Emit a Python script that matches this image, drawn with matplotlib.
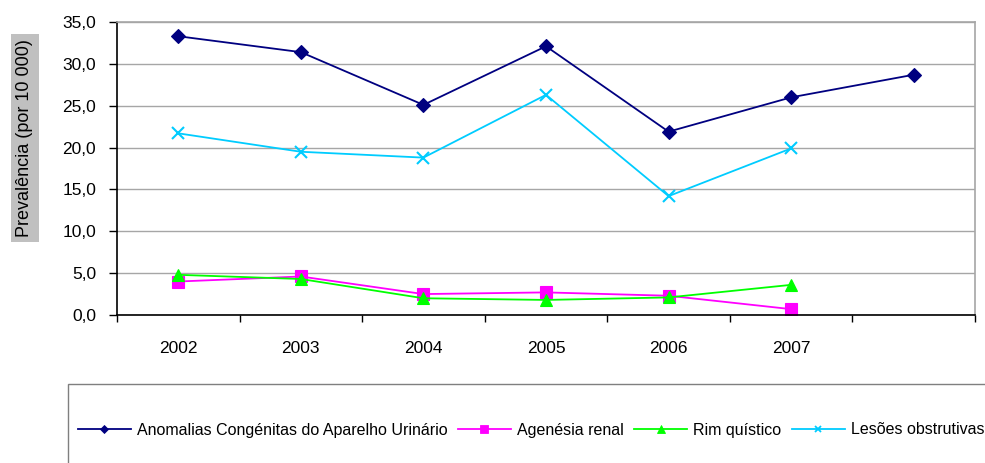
import matplotlib
matplotlib.use("Agg")
import matplotlib.pyplot as plt
import numpy as np
from matplotlib.patches import Rectangle
from matplotlib.lines import Line2D
from matplotlib.ticker import FuncFormatter

plt.rcParams['font.family'] = ['Liberation Sans', 'DejaVu Sans']

categories = ["2002", "2003", "2004", "2005", "2006", "2007", ""]
anomalias = [33.3, 31.4, 25.1, 32.1, 21.9, 26.0, 28.7]
agenesia = [4.0, 4.6, 2.5, 2.7, 2.3, 0.7, np.nan]
rim = [4.8, 4.3, 2.0, 1.8, 2.1, 3.6, np.nan]
lesoes = [21.7, 19.5, 18.8, 26.3, 14.2, 19.9, np.nan]

series = [
    ("Anomalias Congénitas do Aparelho Urinário", anomalias, "#000080", "D", 7, 4),
    ("Agenésia renal", agenesia, "#FF00FF", "s", 8, 5.5),
    ("Rim quístico", rim, "#00FF00", "^", 8, 5.5),
    ("Lesões obstrutivas", lesoes, "#00CCFF", "x", 8, 5),
]

fig = plt.figure(figsize=(9.85, 4.63), dpi=100)
ax = fig.add_axes([117/985, 1-315/463, (975-117)/985, (315-22)/463])

x = np.arange(len(categories)) + 0.5
handles = []
for name, vals, col, mk, ms, lms in series:
    ax.plot(x, vals, color=col, marker=mk, markersize=ms, linewidth=1.3,
            markeredgewidth=1.5 if mk == "x" else 0.8, markeredgecolor=col)
    handles.append(Line2D([], [], color=col, marker=mk, markersize=lms, linewidth=1.3,
                          markeredgewidth=1.3 if mk == "x" else 0.6, markeredgecolor=col,
                          label=name))

ax.set_xlim(0, 7)
ax.set_ylim(0, 35)
ax.set_yticks(np.arange(0, 36, 5))
ax.yaxis.set_major_formatter(FuncFormatter(lambda v, p: f"{v:.1f}".replace(".", ",")))
ax.grid(axis='y', color='#A6A6A6', linewidth=1.0)
ax.set_axisbelow(True)

ax.set_xticks(x)
ax.set_xticklabels(categories)
ax.set_xticks(np.arange(0, 8), minor=True)
ax.tick_params(axis='x', which='major', length=0, pad=18.5, labelsize=12.5)
ax.tick_params(axis='x', which='minor', length=5, width=1, direction='out')
ax.tick_params(axis='y', length=6, width=1, direction='out', pad=9, labelsize=12.5)

for s in ['left', 'bottom']:
    ax.spines[s].set_color('black')
    ax.spines[s].set_linewidth(1.2)
for s in ['top', 'right']:
    ax.spines[s].set_color('#A6A6A6')
    ax.spines[s].set_linewidth(1.2)

fig.text(25/985, 1-138/463, "Prevalência (por 10 000)", rotation=90, ha='center', va='center',
         fontsize=13, bbox=dict(boxstyle='square,pad=0.3', facecolor='#C0C0C0', edgecolor='none'))

fig.patches.append(Rectangle((68/985, -0.1), 1.0, (1-384/463) + 0.1, transform=fig.transFigure,
                             facecolor='white', edgecolor='#7F7F7F', linewidth=1.0, zorder=0))

leg = fig.legend(handles=handles, loc='center left', bbox_to_anchor=(78/985, 1-430/463),
                 ncol=4, frameon=False, fontsize=11.5, handlelength=3.3, handletextpad=0.4,
                 columnspacing=0.65, borderaxespad=0, borderpad=0)

fig.savefig("out.png", dpi=100)
